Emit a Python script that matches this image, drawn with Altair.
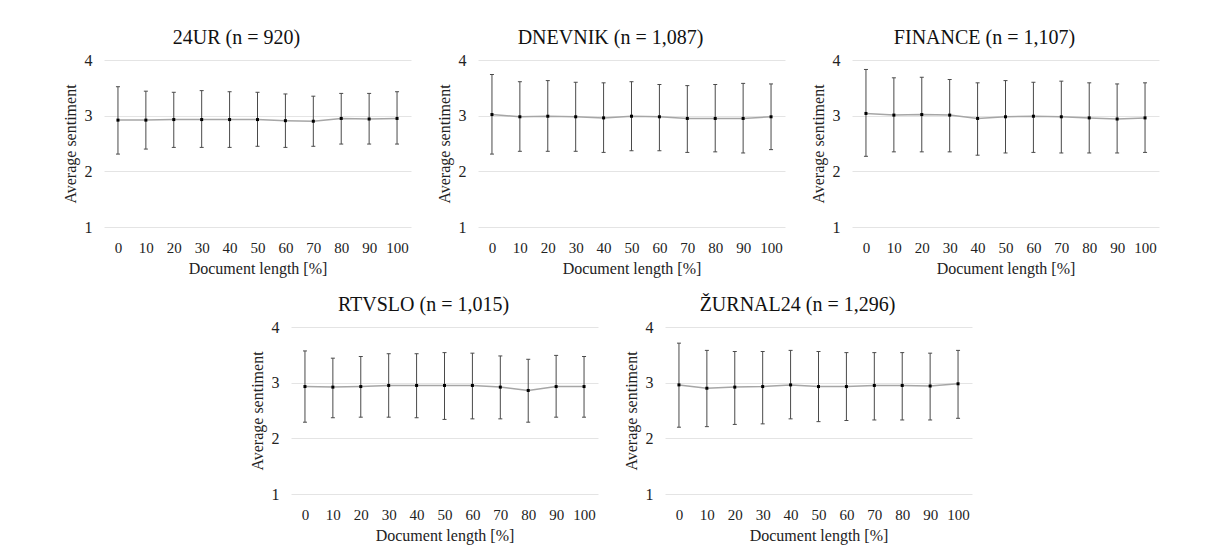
import altair as alt
import pandas as pd

x_pct = [0, 10, 20, 30, 40, 50, 60, 70, 80, 90, 100]

titles = ["24UR (n = 920)", "DNEVNIK (n = 1,087)", "FINANCE (n = 1,107)",
          "RTVSLO (n = 1,015)", "ŽURNAL24 (n = 1,296)"]

mean_24ur = [2.92, 2.92, 2.93, 2.93, 2.93, 2.93, 2.91, 2.90, 2.95, 2.94, 2.95]
hi_24ur = [3.52, 3.44, 3.42, 3.45, 3.43, 3.42, 3.39, 3.35, 3.40, 3.40, 3.43]
lo_24ur = [2.31, 2.40, 2.43, 2.43, 2.43, 2.45, 2.43, 2.45, 2.49, 2.49, 2.49]

mean_dnevnik = [3.02, 2.98, 2.99, 2.98, 2.96, 2.99, 2.98, 2.95, 2.95, 2.95, 2.98]
hi_dnevnik = [3.74, 3.61, 3.63, 3.60, 3.59, 3.61, 3.56, 3.54, 3.56, 3.58, 3.57]
lo_dnevnik = [2.31, 2.36, 2.36, 2.36, 2.34, 2.37, 2.37, 2.34, 2.35, 2.33, 2.39]

mean_finance = [3.04, 3.01, 3.02, 3.01, 2.95, 2.98, 2.99, 2.98, 2.96, 2.94, 2.96]
hi_finance = [3.83, 3.68, 3.69, 3.65, 3.59, 3.63, 3.60, 3.62, 3.59, 3.57, 3.59]
lo_finance = [2.27, 2.35, 2.35, 2.35, 2.29, 2.33, 2.34, 2.33, 2.33, 2.33, 2.34]

mean_rtvslo = [2.93, 2.92, 2.93, 2.95, 2.95, 2.95, 2.95, 2.92, 2.86, 2.93, 2.93]
hi_rtvslo = [3.57, 3.44, 3.47, 3.52, 3.52, 3.54, 3.53, 3.48, 3.42, 3.49, 3.47]
lo_rtvslo = [2.29, 2.37, 2.38, 2.38, 2.37, 2.34, 2.35, 2.35, 2.29, 2.38, 2.38]

mean_zurnal = [2.96, 2.90, 2.92, 2.93, 2.96, 2.93, 2.93, 2.95, 2.95, 2.94, 2.98]
hi_zurnal = [3.71, 3.58, 3.56, 3.56, 3.58, 3.56, 3.54, 3.54, 3.54, 3.53, 3.58]
lo_zurnal = [2.20, 2.21, 2.25, 2.26, 2.35, 2.30, 2.32, 2.33, 2.33, 2.33, 2.36]

FONT = "Liberation Serif"
W, H = 307, 167


def panel(title, mean, lo, hi):
    df = pd.DataFrame({"x": x_pct, "mean": mean, "lo": lo, "hi": hi})
    xs = alt.Scale(domain=[-5, 105], nice=False, zero=False)
    ys = alt.Scale(domain=[1, 4], nice=False, zero=False)
    xax = alt.Axis(values=x_pct, grid=False, domain=False, ticks=False,
                   labelPadding=13, titlePadding=5, title="Document length [%]",
                   labelFont=FONT, titleFont=FONT, labelFontSize=15,
                   titleFontSize=16, titleFontWeight="normal",
                   labelColor="#222", titleColor="#222")
    yax = alt.Axis(values=[1, 2, 3, 4], grid=True, gridColor="#e4e4e4",
                   domain=False, ticks=False, labelPadding=12, titlePadding=6,
                   title="Average sentiment", labelFont=FONT, titleFont=FONT,
                   labelFontSize=16, titleFontSize=16, titleFontWeight="normal",
                   labelColor="#222", titleColor="#222")
    X = alt.X("x:Q", scale=xs, axis=xax)
    base = alt.Chart(df)
    line = base.mark_line(color="#a6a6a6", strokeWidth=1.5).encode(
        x=X, y=alt.Y("mean:Q", scale=ys, axis=yax))
    bars = base.mark_rule(color="#4a4a4a", strokeWidth=1).encode(
        x=X, y=alt.Y("lo:Q", scale=ys, axis=yax), y2="hi:Q")
    cap_hi = base.mark_tick(orient="horizontal", size=4, thickness=1,
                            color="#4a4a4a", opacity=1).encode(
        x=X, y=alt.Y("hi:Q", scale=ys, axis=yax))
    cap_lo = base.mark_tick(orient="horizontal", size=4, thickness=1,
                            color="#4a4a4a", opacity=1).encode(
        x=X, y=alt.Y("lo:Q", scale=ys, axis=yax))
    pts = base.mark_square(size=9, color="black", opacity=1, filled=True).encode(
        x=X, y=alt.Y("mean:Q", scale=ys, axis=yax))
    return alt.layer(line, bars, cap_hi, cap_lo, pts).properties(
        width=W, height=H,
        title=alt.TitleParams(title, font=FONT, fontSize=20, fontWeight="normal",
                              color="#111", anchor="middle", frame="bounds",
                              offset=4))


p1 = panel(titles[0], mean_24ur, lo_24ur, hi_24ur)
p2 = panel(titles[1], mean_dnevnik, lo_dnevnik, hi_dnevnik)
p3 = panel(titles[2], mean_finance, lo_finance, hi_finance)
p4 = panel(titles[3], mean_rtvslo, lo_rtvslo, hi_rtvslo)
p5 = panel(titles[4], mean_zurnal, lo_zurnal, hi_zurnal)

row1 = alt.hconcat(p1, p2, p3, spacing=25)
row2 = alt.hconcat(p4, p5, spacing=25)

chart = alt.vconcat(row1, row2, spacing=19, center=True).properties(
    padding={"left": 62, "top": 28, "right": 5, "bottom": 5}
).configure_view(stroke=None)

chart.save("out.html", embed_options={"renderer": "svg", "actions": False})
